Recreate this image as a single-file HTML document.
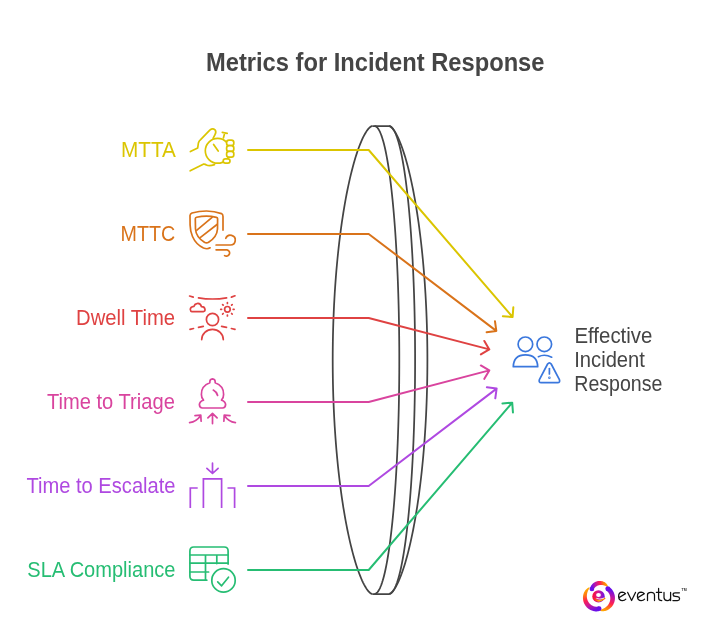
<!DOCTYPE html>
<html><head><meta charset="utf-8">
<style>
html,body{margin:0;padding:0;background:#fff;width:711px;height:622px;overflow:hidden}
svg{display:block;will-change:transform}
text{font-family:"Liberation Sans",sans-serif}
</style></head>
<body>
<svg width="711" height="622" viewBox="0 0 711 622">
<rect width="711" height="622" fill="#fff"/>
<!-- Title -->
<text id="title" x="205.99" y="70.7" font-size="25.7" font-weight="bold" fill="#454545" textLength="338.51" lengthAdjust="spacingAndGlyphs">Metrics for Incident Response</text>

<!-- Labels -->
<g font-size="21.3">
<text id="MTTA" x="121.0" y="157" fill="#DBC500" textLength="54.88" lengthAdjust="spacingAndGlyphs">MTTA</text>
<text id="MTTC" x="120.49" y="241" fill="#D9731A" textLength="54.71" lengthAdjust="spacingAndGlyphs">MTTC</text>
<text id="Dwell" x="76.04" y="325" fill="#DF4242" textLength="99.0" lengthAdjust="spacingAndGlyphs">Dwell Time</text>
<text id="Triage" x="46.97" y="409" fill="#D9449E" textLength="127.86" lengthAdjust="spacingAndGlyphs">Time to Triage</text>
<text id="Escalate" x="26.5" y="493" fill="#AF49E1" textLength="148.99" lengthAdjust="spacingAndGlyphs">Time to Escalate</text>
<text id="SLA" x="27.31" y="577" fill="#26BD73" textLength="148.18" lengthAdjust="spacingAndGlyphs">SLA Compliance</text>
</g>

<!-- Lens -->
<g fill="none" stroke="#444" stroke-width="1.75" stroke-linejoin="round">
<path d="M372.30 126.00 L371.87 126.08 L371.28 126.32 L370.61 126.72 L369.89 127.28 L369.13 128.00 L368.33 128.88 L367.50 129.92 L366.65 131.11 L365.78 132.47 L364.89 133.97 L363.99 135.64 L363.07 137.45 L362.14 139.42 L361.21 141.54 L360.27 143.81 L359.32 146.23 L358.37 148.80 L357.43 151.50 L356.48 154.36 L355.53 157.35 L354.59 160.48 L353.66 163.75 L352.73 167.15 L351.81 170.69 L350.90 174.36 L350.00 178.15 L349.11 182.07 L348.24 186.10 L347.38 190.26 L346.53 194.54 L345.71 198.93 L344.90 203.42 L344.10 208.03 L343.33 212.74 L342.58 217.55 L341.85 222.46 L341.15 227.46 L340.46 232.55 L339.80 237.74 L339.17 243.00 L338.56 248.34 L337.98 253.77 L337.43 259.26 L336.90 264.82 L336.40 270.45 L335.94 276.14 L335.50 281.89 L335.09 287.69 L334.71 293.54 L334.37 299.44 L334.05 305.37 L333.77 311.35 L333.52 317.36 L333.30 323.39 L333.12 329.46 L332.97 335.54 L332.85 341.64 L332.77 347.75 L332.72 353.87 L332.70 360.00 L332.72 366.13 L332.77 372.25 L332.85 378.36 L332.97 384.46 L333.12 390.54 L333.30 396.61 L333.52 402.64 L333.77 408.65 L334.05 414.63 L334.37 420.56 L334.71 426.46 L335.09 432.31 L335.50 438.11 L335.94 443.86 L336.40 449.55 L336.90 455.18 L337.43 460.74 L337.98 466.23 L338.56 471.66 L339.17 477.00 L339.80 482.26 L340.46 487.45 L341.15 492.54 L341.85 497.54 L342.58 502.45 L343.33 507.26 L344.10 511.97 L344.90 516.58 L345.71 521.07 L346.53 525.46 L347.38 529.74 L348.24 533.90 L349.11 537.93 L350.00 541.85 L350.90 545.64 L351.81 549.31 L352.73 552.85 L353.66 556.25 L354.59 559.52 L355.53 562.65 L356.48 565.64 L357.43 568.50 L358.37 571.20 L359.32 573.77 L360.27 576.19 L361.21 578.46 L362.14 580.58 L363.07 582.55 L363.99 584.36 L364.89 586.03 L365.78 587.53 L366.65 588.89 L367.50 590.08 L368.33 591.12 L369.13 592.00 L369.89 592.72 L370.61 593.28 L371.28 593.68 L371.87 593.92 L372.30 594.00"/>
<path d="M374.40 126.00 L375.05 126.08 L375.70 126.32 L376.35 126.72 L377.00 127.28 L377.65 128.00 L378.30 128.88 L378.94 129.92 L379.58 131.11 L380.21 132.47 L380.84 133.97 L381.47 135.64 L382.09 137.45 L382.71 139.42 L383.32 141.54 L383.93 143.81 L384.53 146.23 L385.12 148.80 L385.70 151.50 L386.28 154.36 L386.85 157.35 L387.41 160.48 L387.96 163.75 L388.50 167.15 L389.04 170.69 L389.56 174.36 L390.07 178.15 L390.57 182.07 L391.06 186.10 L391.54 190.26 L392.01 194.54 L392.46 198.93 L392.90 203.42 L393.33 208.03 L393.75 212.74 L394.15 217.55 L394.54 222.46 L394.92 227.46 L395.28 232.55 L395.63 237.74 L395.96 243.00 L396.28 248.34 L396.59 253.77 L396.87 259.26 L397.15 264.82 L397.40 270.45 L397.65 276.14 L397.87 281.89 L398.08 287.69 L398.27 293.54 L398.45 299.44 L398.61 305.37 L398.76 311.35 L398.88 317.36 L398.99 323.39 L399.09 329.46 L399.16 335.54 L399.22 341.64 L399.27 347.75 L399.29 353.87 L399.30 360.00 L399.29 366.13 L399.27 372.25 L399.22 378.36 L399.16 384.46 L399.09 390.54 L398.99 396.61 L398.88 402.64 L398.76 408.65 L398.61 414.63 L398.45 420.56 L398.27 426.46 L398.08 432.31 L397.87 438.11 L397.65 443.86 L397.40 449.55 L397.15 455.18 L396.87 460.74 L396.59 466.23 L396.28 471.66 L395.96 477.00 L395.63 482.26 L395.28 487.45 L394.92 492.54 L394.54 497.54 L394.15 502.45 L393.75 507.26 L393.33 511.97 L392.90 516.58 L392.46 521.07 L392.01 525.46 L391.54 529.74 L391.06 533.90 L390.57 537.93 L390.07 541.85 L389.56 545.64 L389.04 549.31 L388.50 552.85 L387.96 556.25 L387.41 559.52 L386.85 562.65 L386.28 565.64 L385.70 568.50 L385.12 571.20 L384.53 573.77 L383.93 576.19 L383.32 578.46 L382.71 580.58 L382.09 582.55 L381.47 584.36 L380.84 586.03 L380.21 587.53 L379.58 588.89 L378.94 590.08 L378.30 591.12 L377.65 592.00 L377.00 592.72 L376.35 593.28 L375.70 593.68 L375.05 593.92 L374.40 594.00"/>
<path d="M389.00 126.00 L389.68 126.08 L390.37 126.32 L391.05 126.72 L391.73 127.28 L392.41 128.00 L393.08 128.88 L393.76 129.92 L394.43 131.11 L395.09 132.47 L395.76 133.97 L396.41 135.64 L397.07 137.45 L397.71 139.42 L398.35 141.54 L398.99 143.81 L399.62 146.23 L400.24 148.80 L400.85 151.50 L401.45 154.36 L402.05 157.35 L402.64 160.48 L403.22 163.75 L403.78 167.15 L404.34 170.69 L404.89 174.36 L405.43 178.15 L405.95 182.07 L406.46 186.10 L406.97 190.26 L407.46 194.54 L407.93 198.93 L408.40 203.42 L408.85 208.03 L409.28 212.74 L409.71 217.55 L410.12 222.46 L410.51 227.46 L410.89 232.55 L411.25 237.74 L411.60 243.00 L411.94 248.34 L412.26 253.77 L412.56 259.26 L412.84 264.82 L413.11 270.45 L413.37 276.14 L413.60 281.89 L413.82 287.69 L414.03 293.54 L414.21 299.44 L414.38 305.37 L414.53 311.35 L414.66 317.36 L414.78 323.39 L414.88 329.46 L414.96 335.54 L415.02 341.64 L415.06 347.75 L415.09 353.87 L415.10 360.00 L415.09 366.13 L415.06 372.25 L415.02 378.36 L414.96 384.46 L414.88 390.54 L414.78 396.61 L414.66 402.64 L414.53 408.65 L414.38 414.63 L414.21 420.56 L414.03 426.46 L413.82 432.31 L413.60 438.11 L413.37 443.86 L413.11 449.55 L412.84 455.18 L412.56 460.74 L412.26 466.23 L411.94 471.66 L411.60 477.00 L411.25 482.26 L410.89 487.45 L410.51 492.54 L410.12 497.54 L409.71 502.45 L409.28 507.26 L408.85 511.97 L408.40 516.58 L407.93 521.07 L407.46 525.46 L406.97 529.74 L406.46 533.90 L405.95 537.93 L405.43 541.85 L404.89 545.64 L404.34 549.31 L403.78 552.85 L403.22 556.25 L402.64 559.52 L402.05 562.65 L401.45 565.64 L400.85 568.50 L400.24 571.20 L399.62 573.77 L398.99 576.19 L398.35 578.46 L397.71 580.58 L397.07 582.55 L396.41 584.36 L395.76 586.03 L395.09 587.53 L394.43 588.89 L393.76 590.08 L393.08 591.12 L392.41 592.00 L391.73 592.72 L391.05 593.28 L390.37 593.68 L389.68 593.92 L389.00 594.00"/>
<path d="M389.00 126.00 L389.42 126.08 L389.99 126.32 L390.64 126.72 L391.33 127.28 L392.07 128.00 L392.85 128.88 L393.65 129.92 L394.48 131.11 L395.32 132.47 L396.19 133.97 L397.06 135.64 L397.95 137.45 L398.85 139.42 L399.76 141.54 L400.67 143.81 L401.59 146.23 L402.50 148.80 L403.42 151.50 L404.34 154.36 L405.26 157.35 L406.17 160.48 L407.08 163.75 L407.98 167.15 L408.87 170.69 L409.75 174.36 L410.62 178.15 L411.48 182.07 L412.33 186.10 L413.17 190.26 L413.99 194.54 L414.79 198.93 L415.57 203.42 L416.34 208.03 L417.09 212.74 L417.82 217.55 L418.53 222.46 L419.21 227.46 L419.87 232.55 L420.51 237.74 L421.13 243.00 L421.72 248.34 L422.28 253.77 L422.82 259.26 L423.33 264.82 L423.81 270.45 L424.26 276.14 L424.69 281.89 L425.08 287.69 L425.45 293.54 L425.78 299.44 L426.09 305.37 L426.36 311.35 L426.60 317.36 L426.81 323.39 L426.99 329.46 L427.14 335.54 L427.25 341.64 L427.33 347.75 L427.38 353.87 L427.40 360.00 L427.38 366.13 L427.33 372.25 L427.25 378.36 L427.14 384.46 L426.99 390.54 L426.81 396.61 L426.60 402.64 L426.36 408.65 L426.09 414.63 L425.78 420.56 L425.45 426.46 L425.08 432.31 L424.69 438.11 L424.26 443.86 L423.81 449.55 L423.33 455.18 L422.82 460.74 L422.28 466.23 L421.72 471.66 L421.13 477.00 L420.51 482.26 L419.87 487.45 L419.21 492.54 L418.53 497.54 L417.82 502.45 L417.09 507.26 L416.34 511.97 L415.57 516.58 L414.79 521.07 L413.99 525.46 L413.17 529.74 L412.33 533.90 L411.48 537.93 L410.62 541.85 L409.75 545.64 L408.87 549.31 L407.98 552.85 L407.08 556.25 L406.17 559.52 L405.26 562.65 L404.34 565.64 L403.42 568.50 L402.50 571.20 L401.59 573.77 L400.67 576.19 L399.76 578.46 L398.85 580.58 L397.95 582.55 L397.06 584.36 L396.19 586.03 L395.32 587.53 L394.48 588.89 L393.65 590.08 L392.85 591.12 L392.07 592.00 L391.33 592.72 L390.64 593.28 L389.99 593.68 L389.42 593.92 L389.00 594.00"/>
<path d="M372.3 126.0 H389 M372.3 594.0 H389"/>
</g>

<!-- Connectors -->
<g fill="none" stroke-width="2" stroke-linecap="round" stroke-linejoin="round">
<path stroke="#DBC500" d="M248 150 H368.7 L512.60 317.00 M513.33 307.23 L512.60 317.00 L502.83 316.27"/>
<path stroke="#D9731A" d="M248 234 H368.7 L496.30 330.90 M494.97 321.19 L496.30 330.90 L486.59 332.23"/>
<path stroke="#DF4242" d="M248 318 H368.7 L489.30 349.40 M484.34 340.95 L489.30 349.40 L480.85 354.36"/>
<path stroke="#D9449E" d="M248 402 H368.7 L489.30 370.40 M480.84 365.45 L489.30 370.40 L484.35 378.86"/>
<path stroke="#AF49E1" d="M248 486 H368.7 L496.60 388.60 M486.89 387.29 L496.60 388.60 L495.29 398.31"/>
<path stroke="#26BD73" d="M248 570 H368.7 L512.20 402.70 M502.43 403.45 L512.20 402.70 L512.95 412.47"/>
</g>


<!-- Icons -->
<g fill="none" stroke-width="1.7" stroke-linecap="round" stroke-linejoin="round">
<!-- MTTA: hand with stopwatch -->
<g stroke="#DBC500">
<path d="M190.4 151.5 L197.7 147.9 L198.4 143 Q198.9 141 200.6 139.6 L209.8 130.2 Q212.6 127.9 215 129.8 Q216.6 131.8 215 134.6 L213.2 138.2"/>
<circle cx="217.7" cy="150.8" r="12.4"/>
<path d="M213.6 144.4 L218.2 151.1"/>
<path d="M222.3 132.3 L227.2 133.4 M224.6 133.4 L223.4 138"/>
<path d="M190.2 170.8 L203.3 164.2 Q205.2 164 206.4 165 Q209.5 166.4 214.5 164.6" />
<rect x="226.6" y="140.2" width="7.2" height="5.4" rx="2.4" fill="#fff"/>
<rect x="226.6" y="145.6" width="7.2" height="5.8" rx="2.4" fill="#fff"/>
<rect x="226.6" y="151.4" width="7.2" height="5.8" rx="2.4" fill="#fff"/>
<rect x="223.2" y="158.8" width="6.8" height="4.4" rx="2.2" fill="#fff"/>
</g>
<!-- MTTC: shield + wind -->
<g stroke="#D9731A">
<path d="M210.1 247.8 Q207.5 249.6 203.5 248 Q196 244.5 192.5 236.5 Q190.2 231 190.1 225 L190 215.5 Q190.2 213.8 192 213 Q199 211 206.5 211 Q214.5 211 221.5 213.6 Q223 214.4 223 216.5 L223 230.1"/>
<path d="M195.3 218.8 Q195.4 217.6 196.6 217.3 Q206.5 215 216.4 217.3 Q217.6 217.6 217.6 218.8 L217.5 229 Q217 237 208.6 242.3 Q206.5 243.6 204.4 242.3 Q196 237 195.5 229 Z"/>
<path d="M196.9 230.1 L212.1 217.4 M200.5 237.3 L217 224.5"/>
<path d="M216.1 245 L230.2 245 A4.9 4.9 0 1 0 225.8 238.3"/>
<path d="M216.1 249.8 L227 249.8 A3.2 3.2 0 1 1 224.6 255.6"/>
</g>
<!-- Dwell Time -->
<g stroke="#DF4242">
<path d="M189.6 296 L193.3 297.1 M198.5 297.8 Q212.5 300.2 226.6 297.8 M231.4 297.1 L235 295.8"/>
<path d="M191.9 311.6 L203.3 311.6 Q205.2 311.4 205 309.4 Q204.6 306.6 201.5 306.7 Q200.4 302.8 196.8 303.6 Q194.6 304 194 306.3 Q190.3 306.6 190.3 309.5 Q190.5 311.5 191.9 311.6 Z"/>
<circle cx="227.4" cy="309.3" r="2.8"/>
<path d="M227.4 302.6 v0.9 M227.4 315.1 v0.9 M220.7 309.3 h0.9 M233.2 309.3 h0.9 M222.6 304.6 l0.6 0.6 M231.6 313.5 l0.6 0.6 M232.2 304.6 l-0.6 0.6 M222.6 314.1 l0.6 -0.6"/>
<circle cx="212.5" cy="319.5" r="6.1"/>
<path d="M190 329.3 L193.5 328.5 M198.5 327.4 L203.3 326.3 M221.6 326.3 L226.5 327.4 M231.4 328.5 L235 329.3"/>
<path d="M201.7 339.6 A10.8 10.2 0 0 1 223.3 339.6"/>
</g>
<!-- Time to Triage -->
<g stroke="#D9449E">
<path d="M209.8 382.8 Q209.6 379.1 212.5 378.9 Q215.4 379.1 215.2 382.8 Q223.8 386 223.6 394.4 Q223.6 398 221.5 400.2 Q225.5 401.4 225.6 404.6 Q225.4 407.8 222.6 408 L202.4 408 Q199.6 407.8 199.4 404.6 Q199.5 401.4 203.5 400.2 Q201.4 398 201.4 394.4 Q201.2 386 209.8 382.8 Z"/>
<path d="M213.3 390.1 Q216.3 391.6 217.6 395.4"/>
<path d="M212.5 423.6 L212.5 413.4 M207.9 417.9 L212.5 413.4 L217.1 417.9"/>
<path d="M189.6 422.6 Q196.5 421.5 200.8 415.4 M195 415.6 L200.8 415.2 L201.1 421.2"/>
<path d="M235.4 422.6 Q228.5 421.5 224.2 415.4 M230 415.6 L224.2 415.2 L223.9 421.2"/>
</g>
<!-- Time to Escalate -->
<g stroke="#AF49E1" stroke-linecap="butt" stroke-linejoin="miter">
<path d="M212.5 463.2 L212.5 473.3 M206.9 468.3 L212.5 473.5 L218.1 468.3" stroke-linecap="round" stroke-linejoin="round"/>
<path d="M203.4 507.9 L203.4 478.8 L221.6 478.8 L221.6 507.9"/>
<path d="M190.3 507.9 L190.3 488 L197.7 488"/>
<path d="M227.5 488 L234.6 488 L234.6 507.9"/>
</g>
<!-- SLA Compliance -->
<g stroke="#26BD73">
<path d="M206.8 580.2 L193.8 580.2 Q189.9 580.2 189.9 576.3 L189.9 550.9 Q189.9 547 193.8 547 L224.2 547 Q228.1 547 228.1 550.9 L228.1 564.1"/>
<path d="M189.9 555 H228.1 M189.9 563.1 H228.1 M189.9 572 H208.6 M205.5 555 V580.2 M216.8 555 V563.6"/>
<circle cx="223.5" cy="580.4" r="11.7"/>
<path d="M217.7 581.9 L221.6 585.8 L228.5 577.2"/>
</g>
<!-- Target: people + warning -->
<g stroke="#3A77DD">
<circle cx="525.4" cy="344.3" r="7.3"/>
<path d="M513.3 366.7 Q513.6 355 525.4 354.9 Q537.4 355 537.7 366.7 Z"/>
<circle cx="544.3" cy="344.3" r="7.3"/>
<path d="M538.4 356.7 Q544.6 353.6 551.7 357.2"/>
<path d="M547.6 364 Q549.4 361.6 551.2 364 L559.4 379.6 Q560.4 382.5 557.6 382.7 L541.2 382.7 Q538.4 382.5 539.4 379.6 Z"/>
<path d="M549.4 368.6 V374"/>
<circle cx="549.4" cy="377.8" r="0.4"/>
</g>
</g>

<!-- Right text -->
<g font-size="21.3" fill="#454545">
<text id="Effective" x="574.39" y="342.6" textLength="78.05" lengthAdjust="spacingAndGlyphs">Effective</text>
<text id="Incident" x="574.23" y="366.5" textLength="70.69" lengthAdjust="spacingAndGlyphs">Incident</text>
<text id="Response" x="574.27" y="391.0" textLength="88.16" lengthAdjust="spacingAndGlyphs">Response</text>
</g>
<!-- Logo -->
<g id="logo">
<defs><linearGradient id="g1" gradientUnits="userSpaceOnUse" x1="591.87" y1="589.07" x2="607.84" y2="586.68"><stop offset="0" stop-color="#6a10e8"/><stop offset="0.3" stop-color="#c8189a"/><stop offset="0.55" stop-color="#ff2050"/><stop offset="0.78" stop-color="#ff7a10"/><stop offset="1" stop-color="#ffb000"/></linearGradient><linearGradient id="g2" gradientUnits="userSpaceOnUse" x1="607.73" y1="588.76" x2="599.56" y2="610.29"><stop offset="0" stop-color="#6a10e8"/><stop offset="0.3" stop-color="#c8189a"/><stop offset="0.55" stop-color="#ff2050"/><stop offset="0.78" stop-color="#ff7a10"/><stop offset="1" stop-color="#ffb000"/></linearGradient><linearGradient id="g3" gradientUnits="userSpaceOnUse" x1="599.10" y1="608.70" x2="589.65" y2="587.32"><stop offset="0" stop-color="#6a10e8"/><stop offset="0.3" stop-color="#c8189a"/><stop offset="0.55" stop-color="#ff2050"/><stop offset="0.78" stop-color="#ff7a10"/><stop offset="1" stop-color="#ffb000"/></linearGradient><linearGradient id="ge" x1="0" y1="0" x2="1" y2="0"><stop offset="0" stop-color="#ff1030"/><stop offset="0.5" stop-color="#d0189a"/><stop offset="1" stop-color="#6c10e6"/></linearGradient><linearGradient id="gb" x1="0" y1="0" x2="1" y2="0"><stop offset="0" stop-color="#ff2a20"/><stop offset="0.45" stop-color="#ffb800"/><stop offset="1" stop-color="#ff7a00"/></linearGradient></defs>
<path fill="url(#g1)" d="M590.33 587.36 L590.50 586.95 L590.68 586.54 L590.88 586.14 L591.10 585.75 L591.35 585.37 L591.61 585.00 L591.89 584.63 L592.19 584.28 L592.51 583.95 L592.84 583.62 L593.19 583.32 L593.56 583.02 L593.94 582.75 L594.33 582.49 L594.74 582.25 L595.15 582.03 L595.58 581.82 L596.02 581.64 L596.47 581.48 L596.93 581.33 L597.40 581.21 L597.87 581.11 L598.34 581.03 L598.82 580.98 L599.30 580.95 L599.78 580.94 L600.26 580.95 L600.75 580.99 L601.23 581.05 L601.70 581.13 L602.17 581.23 L602.64 581.36 L603.09 581.51 L603.54 581.69 L603.98 581.89 L604.41 582.11 L604.82 582.35 L605.22 582.61 L605.61 582.90 L605.98 583.21 L606.33 583.54 L606.65 583.89 L606.96 584.26 L607.23 584.65 L607.48 585.07 L607.69 585.52 L607.85 586.02 L607.84 586.68 L607.84 586.68 L607.32 586.69 L606.92 586.56 L606.55 586.41 L606.19 586.25 L605.84 586.09 L605.48 585.94 L605.12 585.80 L604.76 585.66 L604.40 585.54 L604.04 585.42 L603.67 585.32 L603.30 585.23 L602.93 585.15 L602.56 585.09 L602.19 585.03 L601.82 585.00 L601.45 584.98 L601.08 584.97 L600.71 584.97 L600.34 584.99 L599.97 585.03 L599.61 585.08 L599.25 585.14 L598.89 585.22 L598.54 585.32 L598.20 585.43 L597.86 585.55 L597.53 585.69 L597.21 585.84 L596.89 586.01 L596.59 586.18 L596.29 586.38 L596.01 586.58 L595.74 586.80 L595.47 587.02 L595.23 587.26 L594.99 587.51 L594.77 587.77 L594.56 588.04 L594.37 588.32 L594.19 588.61 L594.03 588.90 L593.88 589.20 L593.75 589.51 L593.64 589.82 L593.55 590.14 L593.47 590.46 L593.41 590.78Z"/>
<circle cx="591.87" cy="589.07" r="2.30" fill="#6a10e8"/>
<path fill="url(#g2)" d="M609.46 587.10 L610.02 587.52 L610.56 587.99 L611.08 588.48 L611.57 589.00 L612.03 589.56 L612.47 590.14 L612.88 590.75 L613.25 591.38 L613.59 592.04 L613.89 592.72 L614.16 593.41 L614.39 594.13 L614.58 594.86 L614.73 595.59 L614.84 596.34 L614.91 597.10 L614.94 597.86 L614.93 598.62 L614.87 599.39 L614.77 600.15 L614.63 600.90 L614.44 601.64 L614.22 602.38 L613.95 603.10 L613.64 603.80 L613.30 604.49 L612.91 605.16 L612.49 605.80 L612.04 606.41 L611.55 607.00 L611.02 607.56 L610.47 608.08 L609.89 608.57 L609.29 609.03 L608.66 609.44 L608.01 609.82 L607.34 610.15 L606.65 610.44 L605.95 610.69 L605.24 610.89 L604.52 611.04 L603.80 611.14 L603.07 611.19 L602.35 611.19 L601.64 611.13 L600.93 610.99 L600.24 610.77 L599.56 610.29 L599.56 610.29 L600.16 609.88 L600.75 609.66 L601.33 609.46 L601.91 609.25 L602.47 609.04 L603.02 608.80 L603.55 608.55 L604.08 608.28 L604.59 607.99 L605.08 607.68 L605.56 607.34 L606.02 606.99 L606.47 606.62 L606.89 606.22 L607.30 605.81 L607.68 605.38 L608.04 604.94 L608.37 604.47 L608.68 604.00 L608.97 603.51 L609.23 603.01 L609.46 602.49 L609.66 601.97 L609.84 601.44 L609.99 600.90 L610.11 600.36 L610.20 599.82 L610.26 599.27 L610.30 598.72 L610.30 598.18 L610.27 597.64 L610.22 597.10 L610.14 596.57 L610.03 596.05 L609.89 595.54 L609.72 595.03 L609.53 594.55 L609.32 594.07 L609.08 593.62 L608.81 593.18 L608.52 592.76 L608.22 592.35 L607.89 591.97 L607.54 591.62 L607.18 591.28 L606.80 590.97 L606.41 590.69 L606.01 590.43Z"/>
<circle cx="607.73" cy="588.76" r="2.40" fill="#6a10e8"/>
<path fill="url(#g3)" d="M599.10 611.10 L598.40 611.24 L597.69 611.34 L596.96 611.39 L596.23 611.41 L595.50 611.38 L594.76 611.31 L594.02 611.20 L593.28 611.04 L592.55 610.84 L591.83 610.59 L591.11 610.30 L590.42 609.97 L589.74 609.60 L589.08 609.19 L588.44 608.74 L587.82 608.25 L587.23 607.72 L586.68 607.16 L586.15 606.57 L585.66 605.94 L585.20 605.29 L584.78 604.61 L584.40 603.90 L584.07 603.17 L583.77 602.43 L583.52 601.67 L583.31 600.89 L583.15 600.10 L583.04 599.31 L582.97 598.51 L582.95 597.71 L582.98 596.91 L583.06 596.12 L583.18 595.33 L583.35 594.56 L583.57 593.80 L583.83 593.06 L584.14 592.34 L584.50 591.64 L584.89 590.97 L585.33 590.33 L585.81 589.73 L586.33 589.17 L586.88 588.65 L587.48 588.18 L588.11 587.77 L588.80 587.44 L589.65 587.32 L589.65 587.32 L589.46 588.05 L589.14 588.64 L588.82 589.21 L588.52 589.78 L588.23 590.35 L587.97 590.93 L587.73 591.51 L587.52 592.10 L587.33 592.70 L587.17 593.30 L587.05 593.91 L586.95 594.52 L586.88 595.13 L586.85 595.74 L586.84 596.35 L586.87 596.96 L586.92 597.56 L587.01 598.16 L587.13 598.75 L587.28 599.33 L587.46 599.89 L587.67 600.45 L587.91 600.99 L588.17 601.51 L588.47 602.02 L588.78 602.51 L589.13 602.98 L589.49 603.42 L589.88 603.84 L590.29 604.24 L590.71 604.61 L591.16 604.95 L591.62 605.26 L592.09 605.55 L592.58 605.81 L593.08 606.03 L593.58 606.23 L594.09 606.39 L594.61 606.52 L595.12 606.62 L595.64 606.69 L596.16 606.73 L596.67 606.73 L597.18 606.70 L597.67 606.65 L598.16 606.56 L598.64 606.44 L599.10 606.30Z"/>
<circle cx="599.10" cy="608.70" r="2.40" fill="#6a10e8"/>
<circle cx="598.5" cy="596.4" r="6.2" fill="url(#ge)"/>
<path d="M594.6 598.6 Q598 603.4 604.6 598.4" fill="none" stroke="url(#gb)" stroke-width="1.7" stroke-linecap="round"/>
<ellipse cx="598.5" cy="595.1" rx="2.4" ry="2.0" fill="#fff"/>
<path d="M596.3 598.3 Q599.6 599.9 604 598.1" fill="none" stroke="#fff" stroke-width="0.8"/>
</g>
<g fill="none" stroke="#111" stroke-width="1.25" stroke-linecap="round" stroke-linejoin="round">
<path d="M619.3 597.5 L625.5 593.6 Q624.1 592.2 622.3 592.2 Q618.6 592.3 618.6 596.4 Q618.8 600.6 622.4 600.6 Q624.6 600.6 625.8 599.2"/>
<path d="M627.7 592.4 L631.6 600.5 L635.5 592.4"/>
<path d="M638.1 597.5 L644.3 593.6 Q642.9 592.2 641.1 592.2 Q637.4 592.3 637.4 596.4 Q637.6 600.6 641.2 600.6 Q643.4 600.6 644.6 599.2"/>
<path d="M647.5 600.6 V594.6 Q647.6 592.4 651 592.4 Q654.5 592.4 654.5 595.4 V600.6"/>
<path d="M658.6 588.4 V598 Q658.6 600.6 661.8 600.6 M656.4 592.4 H661.6"/>
<path d="M664 592.4 V597.6 Q664.1 600.6 667.3 600.6 Q670.6 600.6 670.6 597.6 M670.6 592.4 V600.6"/>
<path d="M679.4 592.8 H675.1 Q673.1 592.8 673.1 594.6 Q673.2 596.2 675.1 596.4 L677.5 596.7 Q679.6 597 679.6 598.8 Q679.5 600.6 677.4 600.6 H672.9"/>
</g>
<text x="681.6" y="591.3" font-size="4.4" font-weight="bold" fill="#333" textLength="5.2" lengthAdjust="spacingAndGlyphs">TM</text>
</svg>
</body></html>
